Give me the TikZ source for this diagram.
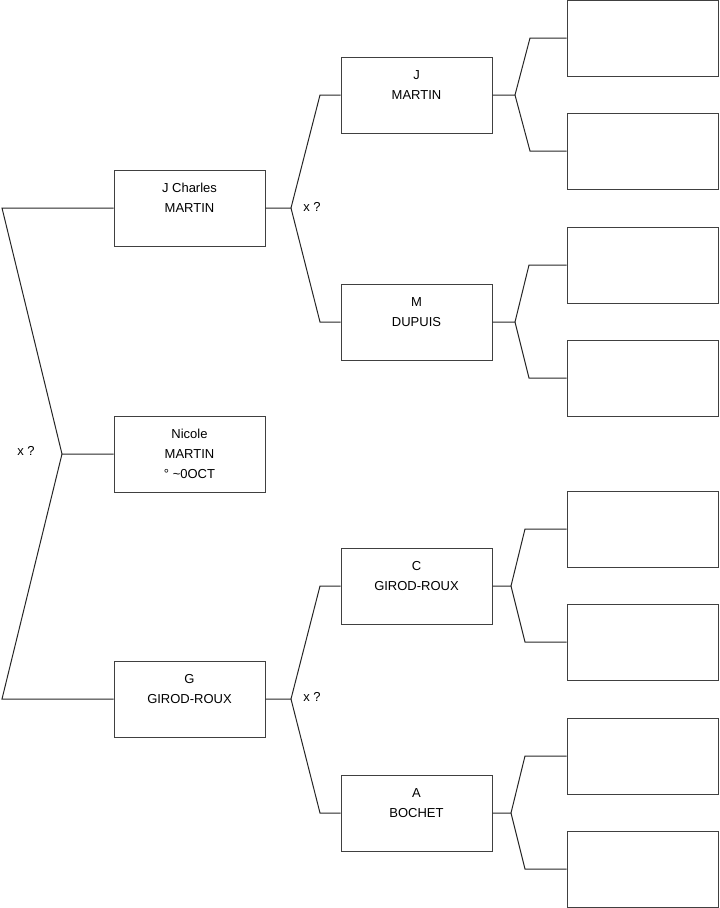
\documentclass[tikz,border=0pt]{standalone}
\usepackage{fontspec}
\setmainfont{Liberation Sans}
\usetikzlibrary{positioning}

\begin{document}
\begin{tikzpicture}[
  x=0.75pt, y=-0.75pt,
  person/.style={rectangle, draw=black!75, line width=0.75pt, minimum width=113.25pt,
    minimum height=57pt, inner sep=0pt, align=center,
    font=\fontsize{9.75}{15}\selectfont},
  link/.style={draw=black!85, line width=0.75pt},
  marr/.style={font=\fontsize{9.75}{12}\selectfont, inner sep=0pt}
]
\useasboundingbox (0,0) rectangle (719,908);

% first generation
\node[person] (jc) at (189.5,208) {\strut J Charles\\\strut MARTIN\\\strut};
\node[person] (nicole) at (189.5,454) {\strut Nicole\\\strut MARTIN\\\strut ° \textasciitilde0OCT};
\node[person] (gg) at (189.5,699) {\strut G\\\strut GIROD-ROUX\\\strut};

% second generation
\node[person] (jm) at (416.5,95) {\strut J\\\strut MARTIN\\\strut};
\node[person] (md) at (416.5,322) {\strut M\\\strut DUPUIS\\\strut};
\node[person] (cg) at (416.5,586) {\strut C\\\strut GIROD-ROUX\\\strut};
\node[person] (ab) at (416.5,813) {\strut A\\\strut BOCHET\\\strut};

% empty boxes
\foreach \y [count=\i] in {38,151,265,378,529,642,756,869}
  \node[person] (r\i) at (642.5,\y) {};

% forks
\coordinate (f0) at (62,454);
\coordinate (f1) at (291,208);
\coordinate (f2) at (291,699);
\coordinate (f3) at (515,95);
\coordinate (f4) at (515,322);
\coordinate (f5) at (511,586);
\coordinate (f6) at (511,813);

\draw[link] (nicole.west) -- (f0) -- (2,208) -- (jc.west);
\draw[link] (f0) -- (2,699) -- (gg.west);
\draw[link] (jc.east) -- (f1) -- (320,95) -- (jm.west);
\draw[link] (f1) -- (320,322) -- (md.west);
\draw[link] (gg.east) -- (f2) -- (320,586) -- (cg.west);
\draw[link] (f2) -- (320,813) -- (ab.west);
\draw[link] (jm.east) -- (f3) -- (530,38) -- (r1.west);
\draw[link] (f3) -- (530,151) -- (r2.west);
\draw[link] (md.east) -- (f4) -- (529,265) -- (r3.west);
\draw[link] (f4) -- (529,378) -- (r4.west);
\draw[link] (cg.east) -- (f5) -- (525,529) -- (r5.west);
\draw[link] (f5) -- (525,642) -- (r6.west);
\draw[link] (ab.east) -- (f6) -- (525,756) -- (r7.west);
\draw[link] (f6) -- (525,869) -- (r8.west);

% marriage marks
\node[marr] (x0) at (26,451) {x ?};
\node[marr] (x1) at (312,207) {x ?};
\node[marr] (x2) at (312,697) {x ?};
\end{tikzpicture}
\end{document}
